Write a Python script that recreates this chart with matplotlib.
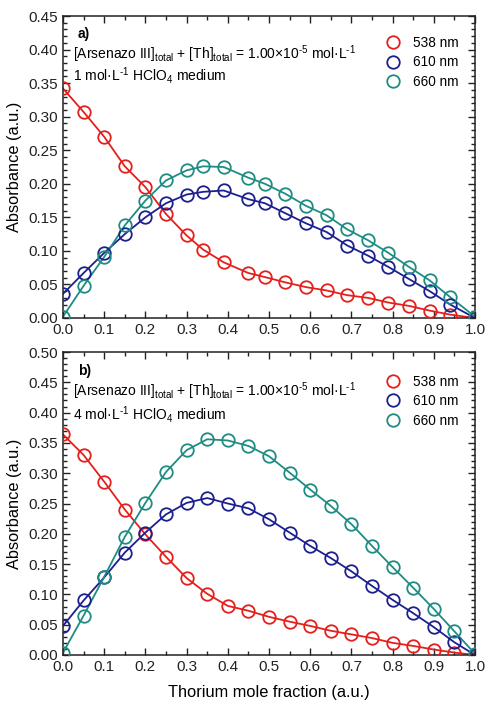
import matplotlib
matplotlib.use("Agg")
import matplotlib.pyplot as plt
from matplotlib.ticker import MultipleLocator, FormatStrFormatter

plt.rcParams['font.family'] = ['Liberation Sans', 'DejaVu Sans']
plt.rcParams['mathtext.fontset'] = 'custom'
plt.rcParams['mathtext.rm'] = 'Liberation Sans'
plt.rcParams['mathtext.it'] = 'Liberation Sans:italic'
plt.rcParams['mathtext.bf'] = 'Liberation Sans:bold'

# ---- data: panel a) 1 mol/L HClO4 ----
x_a = [0.0, 0.05, 0.10, 0.15, 0.20, 0.25, 0.30, 0.34, 0.39, 0.45, 0.49,
       0.54, 0.59, 0.64, 0.69, 0.74, 0.79, 0.84, 0.89, 0.94, 1.0]
red_a = [0.342, 0.307, 0.270, 0.226, 0.195, 0.155, 0.123, 0.102, 0.083, 0.067, 0.061,
         0.053, 0.046, 0.041, 0.034, 0.030, 0.023, 0.018, 0.011, 0.005, 0.0]
blue_a = [0.036, 0.067, 0.097, 0.125, 0.150, 0.171, 0.184, 0.188, 0.190, 0.177, 0.171,
          0.156, 0.141, 0.128, 0.108, 0.093, 0.076, 0.058, 0.040, 0.020, 0.0]
teal_a = [0.002, 0.048, 0.091, 0.138, 0.175, 0.205, 0.220, 0.226, 0.225, 0.209, 0.200,
          0.185, 0.167, 0.153, 0.132, 0.116, 0.097, 0.076, 0.056, 0.031, 0.002]

# ---- data: panel b) 4 mol/L HClO4 ----
x_b = [0.0, 0.05, 0.10, 0.15, 0.20, 0.25, 0.30, 0.35, 0.40, 0.45, 0.50,
       0.55, 0.60, 0.65, 0.70, 0.75, 0.80, 0.85, 0.90, 0.95, 1.0]
red_b = [0.364, 0.330, 0.286, 0.240, 0.199, 0.162, 0.127, 0.101, 0.081, 0.073, 0.063,
         0.055, 0.048, 0.040, 0.034, 0.028, 0.020, 0.015, 0.009, 0.004, 0.0]
blue_b = [0.048, 0.090, 0.128, 0.169, 0.202, 0.232, 0.251, 0.259, 0.250, 0.242, 0.224,
          0.202, 0.180, 0.160, 0.138, 0.114, 0.091, 0.069, 0.046, 0.021, 0.0]
teal_b = [0.004, 0.065, 0.129, 0.195, 0.251, 0.302, 0.338, 0.356, 0.354, 0.345, 0.328,
          0.301, 0.273, 0.246, 0.216, 0.180, 0.145, 0.111, 0.076, 0.039, 0.002]

labels = ['538 nm', '610 nm', '660 nm']
colors = ['#e3201c', '#1c1f8e', '#1e8c82']
panel_tags = ['a)', 'b)']
media = ['1', '4']
ymax = [0.45, 0.50]

fig = plt.figure(figsize=(4.98, 7.13), dpi=100)
ax_a = fig.add_axes([63/498, 1-318/713, 412/498, 302/713])
ax_b = fig.add_axes([63/498, 1-655/713, 412/498, 303/713])

panels = [
    (ax_a, x_a, [red_a, blue_a, teal_a]),
    (ax_b, x_b, [red_b, blue_b, teal_b]),
]
tag_y = [0.927, 0.924]
line1_y = [0.859, 0.856]
line2_y = [0.787, 0.778]
leg_y = [0.934, 0.925]

for i, (ax, xs, series) in enumerate(panels):
    handles = []
    for ys, c, lab in zip(series, colors, labels):
        ax.plot(xs, ys, '-', color=c, lw=1.3, zorder=2)
        h, = ax.plot(xs, ys, 'o', mfc='none', mec=c, mew=1.3, ms=9, zorder=3,
                     label=lab)
        handles.append(h)
    ax.set_xlim(0, 1.0)
    ax.set_ylim(0, ymax[i])
    ax.xaxis.set_major_locator(MultipleLocator(0.1))
    ax.xaxis.set_minor_locator(MultipleLocator(0.05))
    ax.yaxis.set_major_locator(MultipleLocator(0.05))
    ax.yaxis.set_minor_locator(MultipleLocator(0.01))
    ax.xaxis.set_major_formatter(FormatStrFormatter('%.1f'))
    ax.yaxis.set_major_formatter(FormatStrFormatter('%.2f'))
    ax.tick_params(which='both', direction='in', top=True, right=True,
                   labelsize=11, colors='#222222', width=1)
    ax.tick_params(which='major', length=5)
    ax.tick_params(which='minor', length=3)
    for sp in ax.spines.values():
        sp.set_linewidth(1.1)
        sp.set_color('#222222')
    ax.set_ylabel('Absorbance (a.u.)', fontsize=11.8, labelpad=5)
    ax.text(0.036, tag_y[i], panel_tags[i], transform=ax.transAxes, fontsize=10,
            fontweight='bold', va='baseline', ha='left')
    ax.text(0.024, line1_y[i],
            '[Arsenazo III]$_{\\rm total}$ + [Th]$_{\\rm total}$ = 1.00\u00d710$^{\\text{-5}}$ mol\u00b7L$^{\\text{-1}}$',
            transform=ax.transAxes, fontsize=10, va='baseline', ha='left')
    ax.text(0.024, line2_y[i],
            media[i] + ' mol\u00b7L$^{\\text{-1}}$ HClO$_{4}$ medium',
            transform=ax.transAxes, fontsize=10, va='baseline', ha='left')
    ax.legend(handles=handles, loc='upper left', bbox_to_anchor=(0.781, leg_y[i]),
              frameon=False, fontsize=9.8, handletextpad=0.85,
              labelspacing=0.4, borderaxespad=0, borderpad=0, handlelength=1.2)

ax_b.set_xlabel('Thorium mole fraction (a.u.)', fontsize=11.8, labelpad=8)

fig.savefig('out.png', dpi=100)
